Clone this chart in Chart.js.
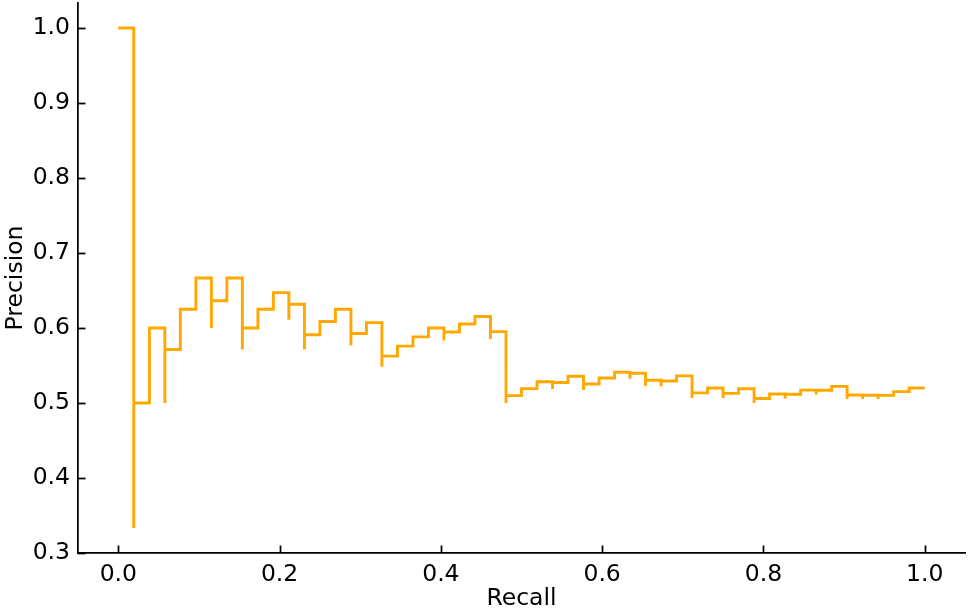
<!DOCTYPE html>
<html>
<head>
<meta charset="utf-8">
<script src="https://cdn.jsdelivr.net/npm/chart.js@4/dist/chart.umd.min.js"></script>
<style>
  html, body { margin: 0; padding: 0; background: #fff; }
  canvas { display: block; }
</style>
</head>
<body>
<canvas id="prChart" width="969" height="613"></canvas>
<script>
// recall levels k/52, k = 0..52
const recall = [
  0, 0.0192, 0.0385, 0.0577, 0.0769, 0.0962, 0.1154, 0.1346, 0.1538, 0.1731,
  0.1923, 0.2115, 0.2308, 0.25, 0.2692, 0.2885, 0.3077, 0.3269, 0.3462, 0.3654,
  0.3846, 0.4038, 0.4231, 0.4423, 0.4615, 0.4808, 0.5, 0.5192, 0.5385, 0.5577,
  0.5769, 0.5962, 0.6154, 0.6346, 0.6538, 0.6731, 0.6923, 0.7115, 0.7308, 0.75,
  0.7692, 0.7885, 0.8077, 0.8269, 0.8462, 0.8654, 0.8846, 0.9038, 0.9231, 0.9423,
  0.9615, 0.9808, 1.0
];

// precision held between recall[k-1] and recall[k]
const stepPrecision = [
  1.0, 0.5, 0.6, 0.5714, 0.625, 0.6667, 0.6364, 0.6667, 0.6, 0.625,
  0.6471, 0.6316, 0.5909, 0.6087, 0.625, 0.5926, 0.6071, 0.5625, 0.5758, 0.5882,
  0.6, 0.5946, 0.6053, 0.6154, 0.5952, 0.5098, 0.5192, 0.5283, 0.5273, 0.5357,
  0.5254, 0.5333, 0.541, 0.5397, 0.5303, 0.5294, 0.5362, 0.5135, 0.52, 0.5128,
  0.519, 0.506, 0.5119, 0.5116, 0.5172, 0.5169, 0.5222, 0.5106, 0.5104, 0.5102,
  0.5152, 0.52
];

// lowest precision reached at recall[k] before the next hit (null = no dip)
const dipPrecision = [
  0.3333, null, 0.5, null, null, 0.6, null, 0.5714, null, null,
  0.6111, 0.5714, null, null, 0.5769, null, 0.5484, null, null, null,
  0.5833, null, null, 0.5854, 0.5, null, null, 0.5185, null, 0.5172,
  null, null, 0.5323, 0.5231, 0.5224, null, 0.5068, null, 0.5065, null,
  0.5, null, 0.5059, null, 0.5114, null, 0.5054, 0.5053, 0.5052, null,
  null, null
];

const xTicks = [0, 0.2, 0.4, 0.6, 0.8, 1.0];
const xTickLabels = ['0.0', '0.2', '0.4', '0.6', '0.8', '1.0'];
const yTicks = [0.3, 0.4, 0.5, 0.6, 0.7, 0.8, 0.9, 1.0];
const yTickLabels = ['0.3', '0.4', '0.5', '0.6', '0.7', '0.8', '0.9', '1.0'];

// build the curve vertices (step drawn by chart.js)
const points = [{ x: recall[0], y: stepPrecision[0] }];
for (let k = 1; k < stepPrecision.length; k++) {
  if (dipPrecision[k - 1] !== null) {
    points.push({ x: recall[k], y: dipPrecision[k - 1] });
  }
  points.push({ x: recall[k], y: stepPrecision[k] });
}
points.push({ x: recall[recall.length - 1], y: stepPrecision[stepPrecision.length - 1] });

Chart.defaults.font.family = '"DejaVu Sans", sans-serif';
Chart.defaults.font.size = 23.5;
Chart.defaults.color = '#000';

// matplotlib style ticks pointing into the axes
const inwardTicks = {
  id: 'inwardTicks',
  afterDraw(chart) {
    const { ctx, chartArea } = chart;
    const xs = chart.scales.x, ys = chart.scales.y;
    ctx.save();
    ctx.strokeStyle = '#000';
    ctx.lineWidth = 1.75;
    xTicks.forEach(v => {
      const px = Math.round(xs.getPixelForValue(v)) + 0.5;
      ctx.beginPath();
      ctx.moveTo(px, chartArea.bottom);
      ctx.lineTo(px, chartArea.bottom - 7.5);
      ctx.stroke();
    });
    yTicks.forEach(v => {
      const py = Math.round(ys.getPixelForValue(v)) + 0.5;
      ctx.beginPath();
      ctx.moveTo(chartArea.left, py);
      ctx.lineTo(chartArea.left + 7.5, py);
      ctx.stroke();
    });
    ctx.restore();
  }
};

const ctx = document.getElementById('prChart').getContext('2d');
new Chart(ctx, {
  type: 'line',
  data: {
    datasets: [{
      data: points,
      stepped: 'before',
      borderColor: '#FFA800',
      borderWidth: 2.9,
      pointRadius: 0,
      fill: false,
      tension: 0
    }]
  },
  options: {
    responsive: false,
    devicePixelRatio: 1,
    animation: false,
    layout: { padding: { top: 3, right: 4, left: 0, bottom: 0 } },
    plugins: { legend: { display: false }, tooltip: { enabled: false } },
    scales: {
      x: {
        type: 'linear',
        min: -0.05,
        max: 1.05,
        grid: { display: false, drawTicks: false },
        border: { display: true, color: '#000', width: 1.75 },
        afterBuildTicks: scale => { scale.ticks = xTicks.map(v => ({ value: v })); },
        ticks: { padding: 8, maxRotation: 0, callback: (v, i) => xTickLabels[i] },
        title: { display: true, text: 'Recall', padding: { top: 7, bottom: 0 } },
        afterFit: scale => {
          scale.height = 60;
          scale.paddingLeft = 0;
          scale.paddingRight = 0;
        }
      },
      y: {
        type: 'linear',
        min: 0.3,
        max: 1.0333,
        grid: { display: false, drawTicks: false },
        border: { display: true, color: '#000', width: 1.75 },
        afterBuildTicks: scale => { scale.ticks = yTicks.map(v => ({ value: v })); },
        ticks: { padding: 8, callback: (v, i) => yTickLabels[i] },
        title: { display: true, text: 'Precision', padding: { top: 2, bottom: 0 } },
        afterFit: scale => {
          scale.width = 78;
          scale.paddingTop = 0;
          scale.paddingBottom = 0;
        }
      }
    }
  },
  plugins: [inwardTicks]
});
</script>
</body>
</html>
